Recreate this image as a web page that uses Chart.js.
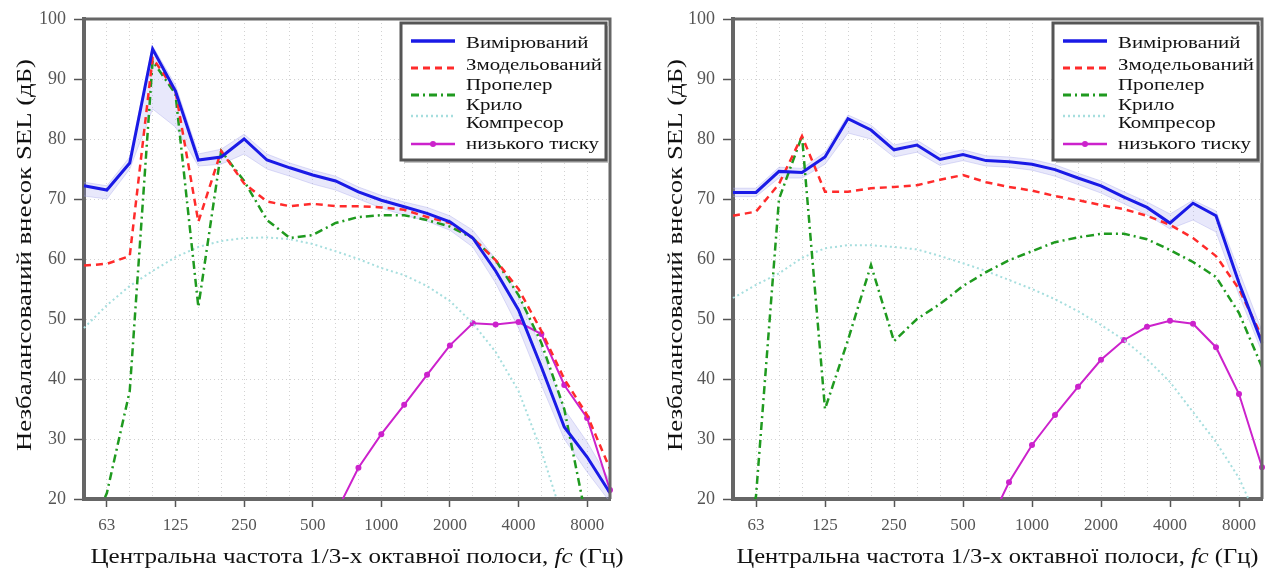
<!DOCTYPE html>
<html>
<head>
<meta charset="utf-8">
<title>SEL</title>
<script src="https://cdn.jsdelivr.net/npm/chart.js@4.4.1/dist/chart.umd.min.js"></script>
<style>
  body { margin: 0; background: #fff; }
  .panel { position: absolute; top: 0; width: 637px; height: 573px; }
</style>
</head>
<body>
<div class="panel" style="left:0"><canvas id="left"></canvas></div>
<div class="panel" style="left:637px"><canvas id="right"></canvas></div>
<script>
// 1/3-octave band centre frequencies (Hz) and the labelled octaves
const bands = ['50', '63', '80', '100', '125', '160', '200', '250', '315', '400', '500', '630',
  '800', '1000', '1250', '1600', '2000', '2500', '3150', '4000', '5000', '6300', '8000', '10000'];
const octaves = ['63', '125', '250', '500', '1000', '2000', '4000', '8000'];
const yMin = 20, yMax = 100, yStep = 10;

const seriesNames = ['Вимірюваний', 'Змодельований', 'Пропелер', 'Крило', 'Компресор низького тиску'];
const yTitle = 'Незбалансований внесок SEL (дБ)';
const xTitle = ['Центральна частота 1/3-х октавної полоси, ', 'fc', ' (Гц)'];

// left panel
const measuredL = [72.2, 71.5, 76, 95, 88, 76.5, 77, 80, 76.5, 75.2, 74, 73, 71.2, 69.8, 68.7, 67.6, 66.2, 63.5, 58, 51.5, 42, 32, 27, 21];
const measuredHiL = [72.8, 72.2, 77, 95.5, 89, 77.5, 78.3, 80.8, 77.5, 76, 74.8, 73.8, 72, 70.6, 69.5, 68.6, 67.2, 64.8, 60, 54, 45, 35, 29.5, 23];
const measuredLoL = [70.5, 70, 75, 85, 82, 75.5, 75.8, 77.5, 75, 73.8, 72.5, 71.5, 70, 68.5, 67.3, 66.3, 64.8, 62, 56, 48.5, 39, 30, 24.5, 19.5];
const modelledL = [58.9, 59.2, 60.5, 93.5, 88, 66.2, 78, 72.6, 69.6, 68.8, 69.2, 68.8, 68.8, 68.6, 68.2, 67, 66, 63.5, 59.8, 55, 48, 40, 34, 25];
const propellerL = [12, 21, 38, 93, 87.5, 52, 78, 73, 66.5, 63.5, 64, 66, 67, 67.3, 67.3, 66.5, 65.4, 63.5, 59.8, 54, 46, 35, 16, 10];
const wingL = [48.5, 52.3, 55.5, 58, 60.3, 62, 63, 63.5, 63.6, 63.3, 62.5, 61.3, 60, 58.5, 57.3, 55.5, 53, 49.3, 44.5, 38, 28, 16, 4, -8];
const compressorL = [null, null, null, null, null, null, null, null, null, null, null,
  17.6, 25.2, 30.8, 35.7, 40.7, 45.6, 49.3, 49.1, 49.5, 47.5, 39, 33.5, 21.5];

// right panel
const measuredR = [71.1, 71.1, 74.6, 74.4, 77, 83.4, 81.5, 78.2, 79, 76.6, 77.4, 76.4, 76.2, 75.8, 74.9, 73.5, 72.2, 70.3, 68.6, 66, 69.3, 67.2, 56, 46];
const measuredHiR = [71.8, 71.8, 75.3, 75.1, 77.8, 84, 82.3, 79, 79.8, 77.4, 78.2, 77.2, 77, 76.6, 75.7, 74.3, 73, 71.2, 69.5, 67.5, 69.8, 68, 58, 48];
const measuredLoR = [70.4, 70.4, 73.5, 73.5, 75.8, 81, 80, 77, 77.8, 75.6, 76.4, 75.5, 75.3, 74.8, 73.8, 72.4, 71, 69.2, 67.4, 65, 66.5, 64.5, 54, 44.5];
const modelledR = [67.2, 67.9, 72.5, 80.5, 71.2, 71.2, 71.8, 72, 72.3, 73.2, 74, 72.8, 72, 71.4, 70.5, 69.8, 69, 68.3, 67.2, 65.7, 63.5, 60.5, 55, 47];
const propellerR = [5, 20.5, 70, 80.5, 35, 46.5, 59, 46.3, 50, 52.5, 55.5, 57.8, 59.8, 61.3, 62.8, 63.6, 64.2, 64.2, 63.3, 61.5, 59.5, 57, 51, 42];
const wingR = [53.5, 55.7, 57.6, 60.2, 61.8, 62.3, 62.3, 62, 61.6, 60.5, 59.3, 58, 56.5, 55, 53.3, 51.3, 49, 46.5, 43.3, 39.5, 34.5, 29.5, 23.5, 15];
const compressorR = [null, null, null, null, null, null, null, null, null, null, null,
  14.8, 22.8, 29, 34, 38.7, 43.2, 46.5, 48.7, 49.7, 49.2, 45.3, 37.5, 25.3];

const SERIF = "'Liberation Serif', 'Times New Roman', serif";
Chart.defaults.font.family = SERIF;

const styles = [
  { borderColor: '#1a1ae6', borderWidth: 3 },
  { borderColor: '#ff2b2b', borderWidth: 2.5, borderDash: [7, 5] },
  { borderColor: '#1f9a1f', borderWidth: 2.5, borderDash: [8, 4, 2, 4] },
  { borderColor: '#a6dede', borderWidth: 2, borderDash: [2, 3] },
  { borderColor: '#cc22cc', borderWidth: 2, pointRadius: 3 }
];

// draw text squeezed/stretched to a given width
function fitText(ctx, text, cx, cy, width, font) {
  ctx.save();
  ctx.font = font;
  const sx = width / ctx.measureText(text).width;
  ctx.translate(cx, cy);
  ctx.scale(sx, 1);
  ctx.textAlign = 'center';
  ctx.textBaseline = 'middle';
  ctx.fillText(text, 0, 0);
  ctx.restore();
}

function drawLegend(ctx, area) {
  const w = 205, h = 137;
  const x = area.right - 4 - w, y = area.top + 4;
  ctx.save();
  ctx.fillStyle = '#c4c4c4';
  ctx.fillRect(x + 3, y + 3, w, h);
  ctx.fillStyle = '#fff';
  ctx.fillRect(x, y, w, h);
  ctx.strokeStyle = '#555';
  ctx.lineWidth = 3;
  ctx.strokeRect(x, y, w, h);

  const sampleY = [18, 45, 72, 93, 121];
  styles.forEach((s, i) => {
    ctx.beginPath();
    ctx.setLineDash(s.borderDash || []);
    ctx.strokeStyle = s.borderColor;
    ctx.lineWidth = s.borderWidth + 0.5;
    ctx.moveTo(x + 10, y + sampleY[i]);
    ctx.lineTo(x + 54, y + sampleY[i]);
    ctx.stroke();
    if (s.pointRadius) {
      ctx.setLineDash([]);
      ctx.fillStyle = s.borderColor;
      ctx.beginPath();
      ctx.arc(x + 32, y + sampleY[i], 3, 0, 2 * Math.PI);
      ctx.fill();
    }
  });

  const rows = [];
  seriesNames.forEach(n => rows.push(...n.replace(' ', '\n').split('\n')));
  const rowY = [21, 43, 63, 83, 101, 122];
  ctx.font = '16px ' + SERIF;
  const sx = 136 / ctx.measureText(seriesNames[1]).width;
  ctx.fillStyle = '#111';
  ctx.textBaseline = 'middle';
  rows.forEach((t, i) => {
    ctx.save();
    ctx.translate(x + 65, y + rowY[i]);
    ctx.scale(sx, 1);
    ctx.fillText(t, 0, 0);
    ctx.restore();
  });
  ctx.restore();
}

function panelPlugin(p) {
  return {
    id: 'panel',
    afterDraw(chart) {
      const ctx = chart.ctx, a = chart.chartArea;
      // top and right frame
      ctx.save();
      ctx.strokeStyle = '#666';
      ctx.lineWidth = 3;
      ctx.beginPath();
      ctx.moveTo(a.left, a.top);
      ctx.lineTo(a.right, a.top);
      ctx.lineTo(a.right, a.bottom);
      ctx.stroke();
      ctx.restore();

      drawLegend(ctx, a);

      // y title
      ctx.save();
      ctx.fillStyle = '#111';
      ctx.translate(p.yTitleX, 255);
      ctx.rotate(-Math.PI / 2);
      fitText(ctx, yTitle, 0, 0, 392, '22px ' + SERIF);
      ctx.restore();

      // x title with italic fc
      ctx.save();
      ctx.fillStyle = '#111';
      const fonts = ['22px ' + SERIF, 'italic 22px ' + SERIF, '22px ' + SERIF];
      const widths = xTitle.map((t, i) => { ctx.font = fonts[i]; return ctx.measureText(t).width; });
      const total = widths.reduce((s, v) => s + v, 0);
      const sx = p.xTitleWidth / total;
      ctx.translate((a.left + a.right) / 2 + p.xTitleShift - p.xTitleWidth / 2, 557);
      ctx.scale(sx, 1);
      ctx.textBaseline = 'middle';
      let cx = 0;
      xTitle.forEach((t, i) => { ctx.font = fonts[i]; ctx.fillText(t, cx, 0); cx += widths[i]; });
      ctx.restore();
    }
  };
}

function makeChart(id, d, p) {
  const base = { pointRadius: 0, tension: 0, fill: false };
  return new Chart(document.getElementById(id), {
    type: 'line',
    data: {
      labels: bands,
      datasets: [
        { ...base, label: seriesNames[0], data: d.measured, ...styles[0] },
        { ...base, label: seriesNames[1], data: d.modelled, ...styles[1] },
        { ...base, label: seriesNames[2], data: d.propeller, ...styles[2] },
        { ...base, label: seriesNames[3], data: d.wing, ...styles[3] },
        { ...base, label: seriesNames[4], data: d.compressor, ...styles[4],
          pointBackgroundColor: '#cc22cc', pointBorderWidth: 0 },
        { ...base, label: 'upper', data: d.hi, borderColor: 'rgba(170,170,235,0.4)', borderWidth: 1 },
        { ...base, label: 'lower', data: d.lo, borderColor: 'rgba(170,170,235,0.4)', borderWidth: 1,
          fill: '-1', backgroundColor: 'rgba(150,150,235,0.22)' }
      ]
    },
    options: {
      responsive: true,
      maintainAspectRatio: false,
      animation: false,
      layout: { padding: { top: 19, right: p.padRight, bottom: 34, left: 0 } },
      plugins: { legend: { display: false }, tooltip: { enabled: false } },
      scales: {
        x: {
          type: 'category',
          afterFit: s => { s.height = 40; },
          border: { display: true, color: '#666', width: 4, dash: [1, 3] },
          grid: {
            color: '#d2d2d2',
            lineWidth: 1,
            tickLength: 8,
            tickWidth: 1.5,
            tickColor: c => octaves.includes(bands[c.index]) ? '#555' : 'rgba(0,0,0,0)'
          },
          ticks: {
            autoSkip: false,
            maxRotation: 0,
            padding: 8,
            color: '#555',
            font: { size: 17 },
            callback: (v, i) => octaves.includes(bands[i]) ? bands[i] : ''
          }
        },
        y: {
          min: yMin,
          max: yMax,
          afterFit: s => { s.width = p.yAxisWidth; },
          border: { display: true, color: '#666', width: 4, dash: [1, 3] },
          grid: { color: '#d2d2d2', lineWidth: 1, tickLength: 10, tickWidth: 1.5, tickColor: '#555' },
          ticks: { stepSize: yStep, padding: 8, color: '#555', font: { size: 18 } }
        }
      }
    },
    plugins: [panelPlugin(p)]
  });
}

makeChart('left', {
  measured: measuredL, hi: measuredHiL, lo: measuredLoL, modelled: modelledL,
  propeller: propellerL, wing: wingL, compressor: compressorL
}, { yAxisWidth: 84, padRight: 27, yTitleX: 25, xTitleShift: 10, xTitleWidth: 533 });

makeChart('right', {
  measured: measuredR, hi: measuredHiR, lo: measuredLoR, modelled: modelledR,
  propeller: propellerR, wing: wingR, compressor: compressorR
}, { yAxisWidth: 96, padRight: 12, yTitleX: 39, xTitleShift: 0, xTitleWidth: 522 });
</script>
</body>
</html>
